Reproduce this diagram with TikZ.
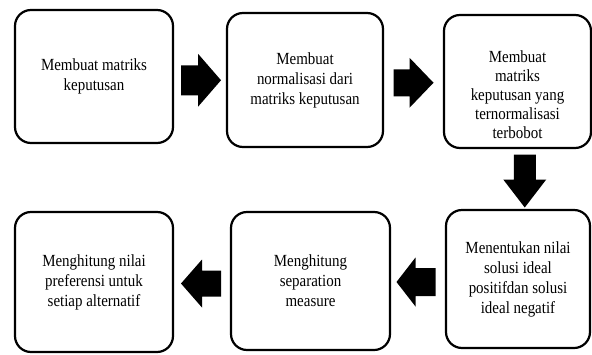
\documentclass[tikz,border=0pt]{standalone}
\usepackage{fontspec}
\setmainfont[FakeStretch=0.88]{Liberation Serif}
\usetikzlibrary{calc}
\tikzset{
  stepbox/.style={draw, line width=2.2pt, rounded corners=16pt, align=center,
    font=\fontsize{17}{20}\selectfont, inner sep=0pt},
  boxtext/.style={align=center, font=\fontsize{17}{19}\selectfont, inner sep=0pt},
  pics/blockarrow/.style n args={4}{code={
    % #1 shaft length, #2 shaft half width, #3 head length, #4 head half width
    \pgfmathsetmacro{\tot}{#1+#3}
    \fill[black] (-\tot/2 pt, #2 pt) -- ++(#1 pt,0pt) -- ++(0pt,#4 pt-#2 pt)
      -- ++(#3 pt,-#4 pt) -- ++(-#3 pt,-#4 pt) -- ++(0pt,#4 pt-#2 pt)
      -- ++(-#1 pt,0pt) -- cycle;
  }}
}
\begin{document}
\begin{tikzpicture}[x=1pt,y=-1pt]
\useasboundingbox (0,0) rectangle (592,354);
\node[stepbox, minimum width=158pt, minimum height=133pt] (b1) at (94,76.5)
  {Membuat matriks\\keputusan};
\node[stepbox, minimum width=156pt, minimum height=134pt] (b2) at (305,80)
  {Membuat\\normalisasi dari\\matriks keputusan};
\node[stepbox, minimum width=147pt, minimum height=133pt] (b3) at (517.5,81.5) {};
\node[boxtext] (t3) at ([yshift=-13pt]b3.center)
  {Membuat\\matriks\\keputusan yang\\ternormalisasi\\terbobot};
\node[stepbox, minimum width=144pt, minimum height=138pt] (b4) at (518,279)
  {Menentukan nilai\\solusi ideal\\positifdan solusi\\ideal negatif};
\node[stepbox, minimum width=159pt, minimum height=138pt] (b5) at (310.5,281)
  {Menghitung\\separation\\measure};
\node[stepbox, minimum width=158pt, minimum height=140pt] (b6) at (94,282)
  {Menghitung nilai\\preferensi untuk\\setiap alternatif};

\coordinate (a1) at ($(b1.east)!0.5!(b2.west)+(1pt,-2pt)$);
\coordinate (a2) at ($(b2.east)!0.5!(b3.west)+(0pt,-2pt)$);
\coordinate (a3) at ($(b3.south)!0.5!(b4.north)+(7pt,-2pt)$);
\coordinate (a4) at ($(b4.west)!0.5!(b5.east)+(-2pt,-2pt)$);
\coordinate (a5) at ($(b5.west)!0.5!(b6.east)+(-1pt,-2pt)$);

\pic at (a1) {blockarrow={17}{15}{23}{26.5}};
\pic at (a2) {blockarrow={16}{13.5}{24}{25}};
\pic[rotate=-90] at (a3) {blockarrow={25}{11}{28}{21.5}};
\pic[rotate=180] at (a4) {blockarrow={20}{14}{19}{24.5}};
\pic[rotate=180] at (a5) {blockarrow={19}{13}{21}{24}};
\end{tikzpicture}
\end{document}
